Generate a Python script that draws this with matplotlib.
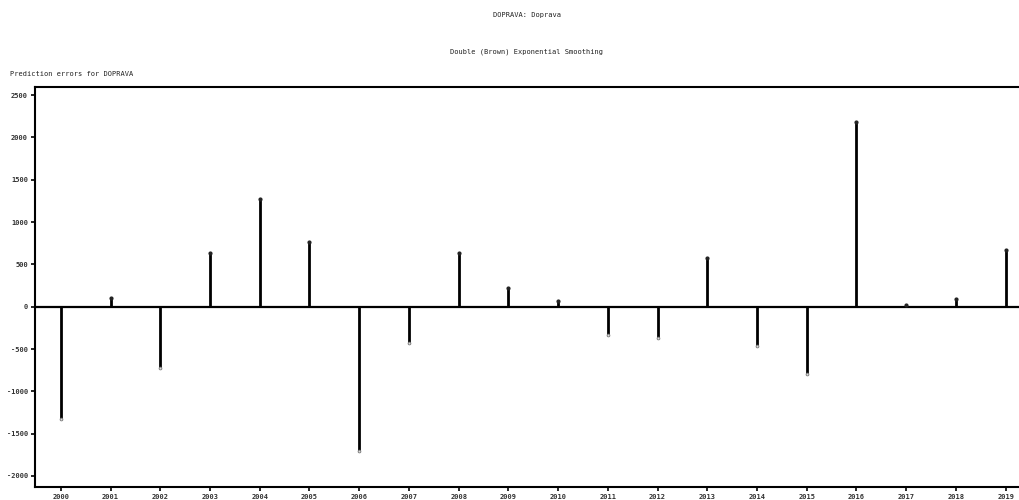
import matplotlib
matplotlib.use('Agg')
import matplotlib.pyplot as plt
import numpy as np

years = list(range(2000, 2020))
errors = [-1330, 100, -730, 630, 1275, 760, -1700, -425, 630, 225,
          70, -330, -365, 570, -460, -800, 2185, 15, 95, 665]
yticks = [-2000, -1500, -1000, -500, 0, 500, 1000, 1500, 2000, 2500]

mono = 'DejaVu Sans Mono'
txt_color = '#222222'

fig = plt.figure(figsize=(10.19, 5.0), dpi=100)
fig.text(0.517, 0.970, 'DOPRAVA: Doprava', ha='center', va='center',
         family=mono, fontsize=5, color=txt_color)
fig.text(0.517, 0.896, 'Double (Brown) Exponential Smoothing', ha='center', va='center',
         family=mono, fontsize=5, color=txt_color)
fig.text(0.010, 0.852, 'Prediction errors for DOPRAVA', ha='left', va='center',
         family=mono, fontsize=5, color=txt_color)

ax = fig.add_axes([0.0343, 0.026, 0.978, 0.800])
ax.axhline(0, color='black', lw=1.6, zorder=1)
for x, v in zip(years, errors):
    ax.plot([x, x], [0, v], color='black', lw=2.0, solid_capstyle='butt', zorder=2)
pos = [(x, v) for x, v in zip(years, errors) if v >= 0]
neg = [(x, v) for x, v in zip(years, errors) if v < 0]
ax.plot([p[0] for p in pos], [p[1] for p in pos], 'o', ms=2.0, color='#222222', zorder=3)
ax.plot([p[0] for p in neg], [p[1] for p in neg], 'o', ms=2.0, mfc='#dddddd',
        mec='#777777', mew=0.6, zorder=3)

ax.set_xlim(1999.48, 2019.52)
ax.set_ylim(-2130, 2595)
ax.set_xticks(years)
ax.set_xticklabels([str(y) for y in years])
ax.set_yticks(yticks)
ax.set_yticklabels([str(t) for t in yticks])
for s in ax.spines.values():
    s.set_linewidth(1.5)
ax.tick_params(length=3, width=1.2, labelsize=5, colors='black', labelcolor='#333333', pad=2)
for lab in ax.get_xticklabels() + ax.get_yticklabels():
    lab.set_family(mono)
    lab.set_fontweight('bold')

fig.savefig('out.png', dpi=100)
